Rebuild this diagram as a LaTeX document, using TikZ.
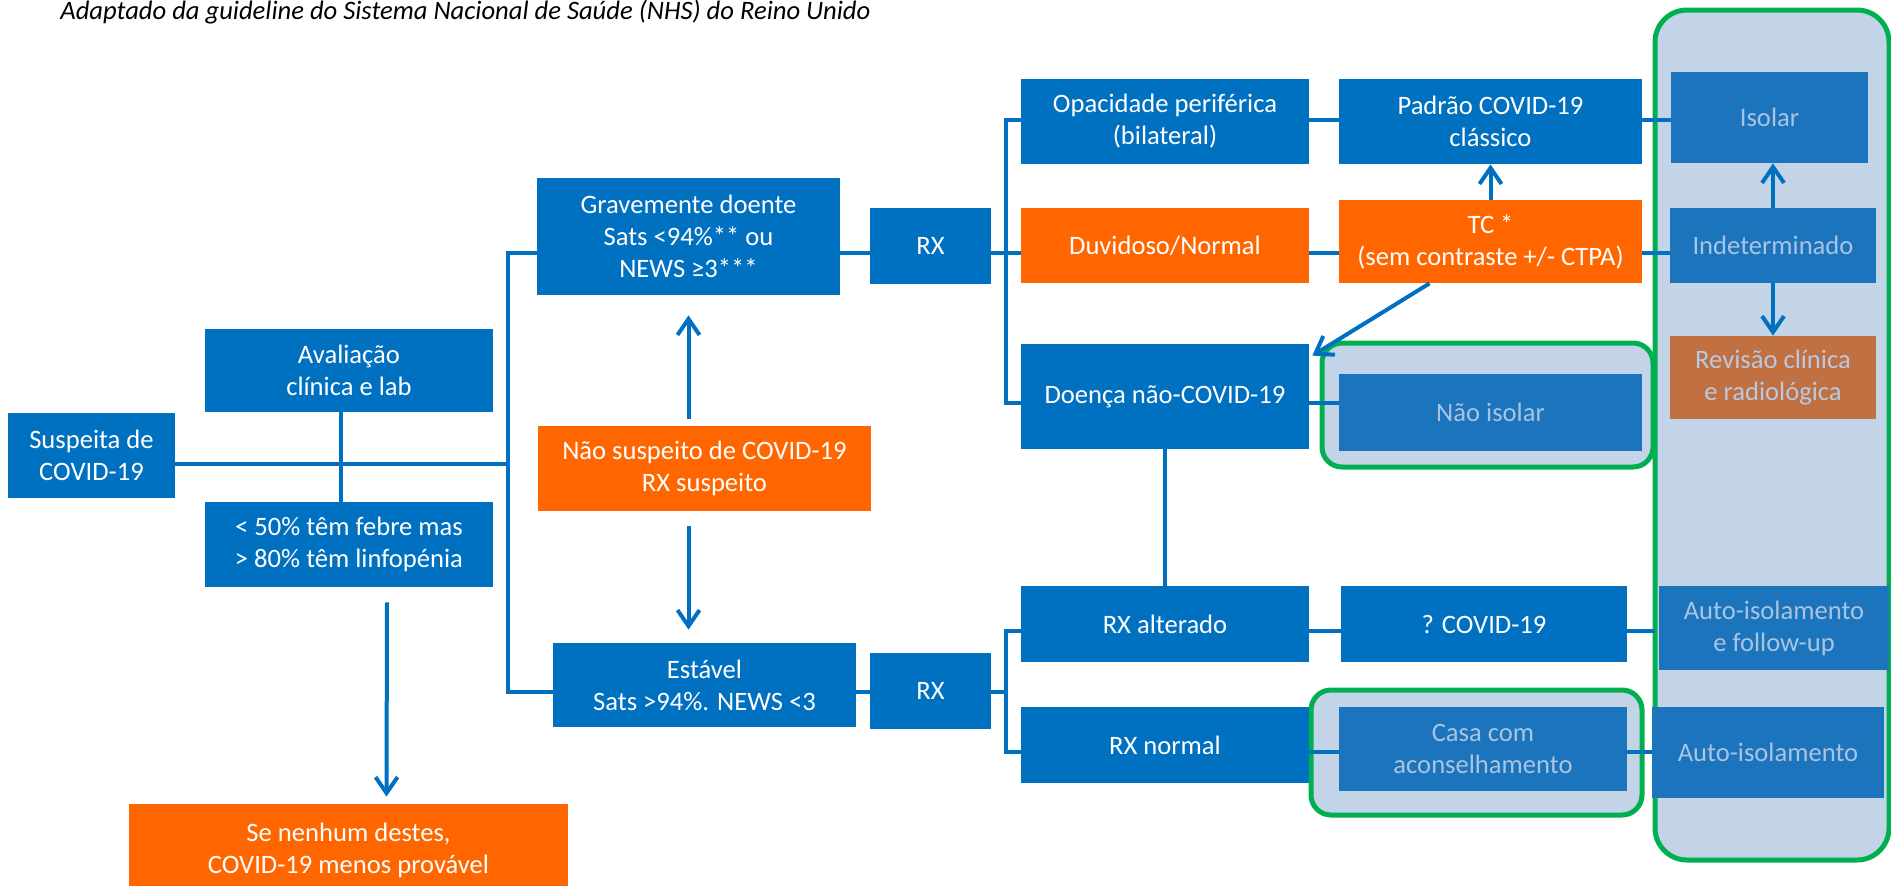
\documentclass[tikz,border=0pt]{standalone}
\usepackage{fontspec}
\setmainfont{Carlito}
\usetikzlibrary{arrows.meta,calc}
\definecolor{cblue}{HTML}{0070C0}
\definecolor{corange}{HTML}{FF6600}
\definecolor{cgreen}{HTML}{00B050}
\definecolor{cpanel}{HTML}{C3D3E8}
\definecolor{cfade}{HTML}{1C75BC}
\definecolor{cfadetext}{HTML}{A9C4E2}
\definecolor{crev}{HTML}{C07041}
\definecolor{crevtext}{HTML}{B9C9E1}
\newcommand{\bx}[7]{\node[#6, minimum width={(#4-#2)*0.5pt}, minimum height={(#5-#3)*0.5pt}] (#1) at ({(#2+#4)/2},{(#3+#5)/2}) {#7};}
\begin{document}
\begin{tikzpicture}[x=0.5pt,y=-0.5pt,
  base/.style={inner sep=0pt, align=center, font=\fontsize{13.3}{16}\selectfont, text=white},
  bluebox/.style={base, fill=cblue},
  orangebox/.style={base, fill=corange},
  fadebox/.style={base, fill=cfade, text=cfadetext},
  revbox/.style={base, fill=crev, text=crevtext},
  bigpanel/.style={draw=cgreen, line width=2.5pt, fill=cpanel, rounded corners=16pt},
  smallpanel/.style={draw=cgreen, line width=2.5pt, fill=cpanel, rounded corners=10pt},
  conn/.style={draw=cblue, line width=2pt},
  arr/.style={conn, -{Straight Barb[length=8pt,width=11pt]}}
]
\useasboundingbox (0,0) rectangle (1891,885);
% title
\node[anchor=base west, inner sep=0pt, font=\fontsize{13.3}{16}\selectfont\itshape] (title) at (60,19) {Adaptado da guideline do Sistema Nacional de Saúde (NHS) do Reino Unido};
% green panels
\draw[bigpanel] (1655,10) rectangle (1889,860);
\draw[smallpanel] (1322,343) rectangle (1653,467);
\draw[smallpanel] (1311,690) rectangle (1642,815);
% left part
\bx{susp}{8}{413}{175}{498}{bluebox}{Suspeita de\\COVID-19}
\bx{aval}{205}{329}{493}{412}{bluebox}{Avaliação\\clínica e lab}
\bx{febre}{205}{502}{493}{587}{bluebox}{< 50\% têm febre mas\\> 80\% têm linfopénia}
\bx{nenhum}{129}{804}{568}{897}{orangebox}{Se nenhum destes,\\COVID-19 menos provável}
\bx{grave}{537}{178}{840}{295}{bluebox}{Gravemente doente\\Sats <94\%** ou\\NEWS ≥3***}
\bx{rxa}{870}{208}{991}{284}{bluebox}{RX}
\bx{naosusp}{538}{426}{871}{511}{orangebox}{Não suspeito de COVID-19\\RX suspeito}
\bx{estavel}{553}{643}{856}{727}{bluebox}{Estável\\Sats >94\%. NEWS <3}
\bx{rxb}{870}{653}{991}{729}{bluebox}{RX}
% middle
\bx{opac}{1021}{79}{1309}{164}{bluebox}{Opacidade periférica\\(bilateral)}
\bx{padrao}{1339}{79}{1642}{164}{bluebox}{Padrão COVID-19\\clássico}
\bx{duv}{1021}{208}{1309}{283}{orangebox}{Duvidoso/Normal}
\bx{tc}{1339}{200}{1642}{283}{orangebox}{TC *\\(sem contraste +/- CTPA)}
\bx{doenca}{1021}{344}{1309}{449}{bluebox}{Doença não-COVID-19}
\bx{rxalt}{1021}{586}{1309}{662}{bluebox}{RX alterado}
\bx{qcovid}{1341}{586}{1627}{662}{bluebox}{? COVID-19}
\bx{rxnorm}{1021}{707}{1309}{783}{bluebox}{RX normal}
% faded boxes
\bx{naoiso}{1339}{374}{1642}{451}{fadebox}{Não isolar}
\bx{casa}{1339}{707}{1627}{791}{fadebox}{Casa com\\aconselhamento}
\bx{isolar}{1671}{72}{1868}{163}{fadebox}{Isolar}
\bx{indet}{1670}{208}{1876}{283}{fadebox}{Indeterminado}
\bx{revisao}{1670}{336}{1876}{419}{revbox}{Revisão clínica\\e radiológica}
\bx{autofu}{1659}{586}{1889}{670}{fadebox}{Auto-isolamento\\e follow-up}
\bx{autoiso}{1652}{707}{1884}{798}{fadebox}{Auto-isolamento}
% junction coordinates
\coordinate (j1) at (508,464);
\coordinate (bt) at (508,253);
\coordinate (bb) at (508,692);
\coordinate (rt) at (1006,120);
\coordinate (rm) at (1006,253);
\coordinate (rb) at (1006,403);
\coordinate (st) at (1006,631);
\coordinate (sm) at (1006,692);
\coordinate (sb) at (1006,752);
\coordinate (pe) at (1655,631);
% connectors left
\draw[conn] (susp.east |- j1) -- (j1);
\draw[conn] ($(aval.south)+(-8,0)$) -- ($(febre.north)+(-8,0)$);
\draw[conn] (grave.west |- bt) -- (bt) -- (bb) -- (estavel.west |- bb);
\draw[conn] (grave.east |- bt) -- (rxa.west |- bt);
\draw[conn] (estavel.east |- bb) -- (rxb.west |- bb);
\draw[arr] ($(naosusp.north -| grave.south)+(0,-7)$) -- ($(grave.south)+(0,20)$);
\draw[arr] ($(naosusp.south -| grave.south)+(0,15)$) -- ($(estavel.north -| grave.south)+(0,-13)$);
\draw[arr] ($(febre.south)+(38,15)$) -- ($(nenhum.north)+(38,-7)$);
% connectors right
\draw[conn] (opac.west |- rt) -- (rt) -- (rb) -- (doenca.west |- rb);
\draw[conn] (rxa.east |- rm) -- (duv.west |- rm);
\draw[conn] (opac.east |- rt) -- (padrao.west |- rt);
\draw[conn] (padrao.east |- rt) -- (isolar.west |- rt);
\draw[conn] (duv.east |- rm) -- (tc.west |- rm);
\draw[conn] (tc.east |- rm) -- (indet.west |- rm);
\draw[conn] (doenca.east |- rb) -- (naoiso.west |- rb);
\draw[conn] (doenca.south) -- (rxalt.north);
\draw[conn] (rxalt.west |- st) -- (st) -- (sb) -- (rxnorm.west |- sb);
\draw[conn] (rxb.east |- sm) -- (sm);
\draw[conn] (rxalt.east |- st) -- (qcovid.west |- st);
\draw[conn] (qcovid.east |- st) -- (pe);
\draw[conn] (rxnorm.east |- sb) -- (casa.west |- sb);
\draw[conn] (casa.east |- sb) -- (autoiso.west |- sb);
\draw[arr] (tc.north) -- (padrao.south);
\draw[arr] (indet.north) -- (indet.north |- isolar.south);
\draw[arr] (indet.south) -- (revisao.north);
\draw[arr] ($(tc.south)+(-61,0)$) -- ($(doenca.north east)+(3,12)$);
\end{tikzpicture}
\end{document}
